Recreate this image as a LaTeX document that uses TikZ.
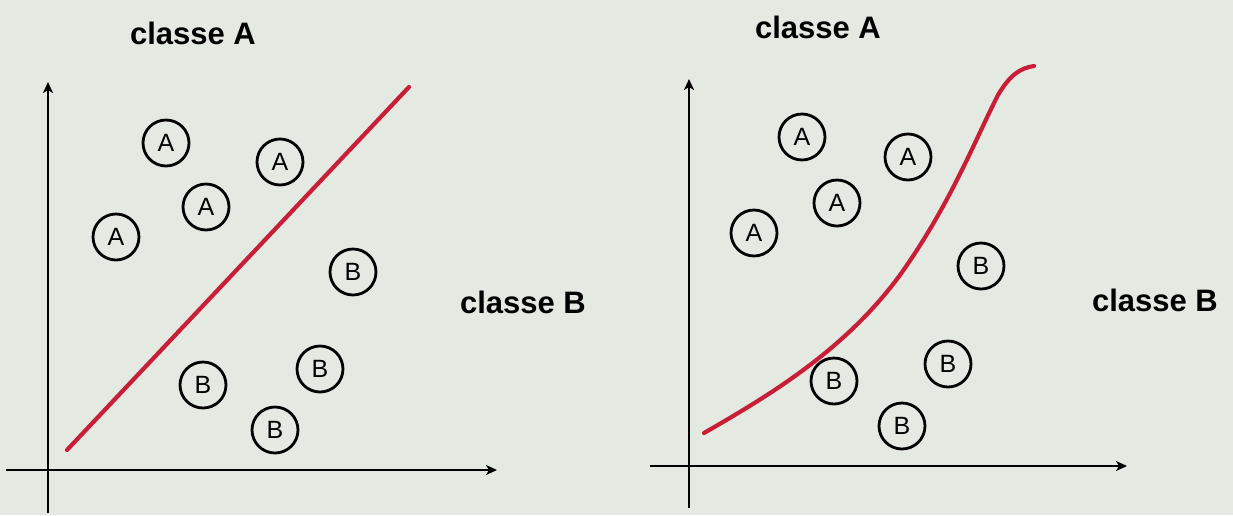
\documentclass[tikz,border=0pt]{standalone}
\usepackage{fontspec}
\setmainfont{Liberation Sans}
\usetikzlibrary{arrows.meta}
\definecolor{bg}{RGB}{228,234,226}
\definecolor{sep}{RGB}{200,30,55}
\tikzset{
  axis/.style={line width=2.6pt, -{Stealth[length=11pt,width=10pt,inset=3pt]}},
  pt/.style={circle, draw, line width=2.8pt, minimum size=46pt, inner sep=0pt, font=\fontsize{25}{28}\selectfont},
  lbl/.style={font=\fontsize{31}{36}\selectfont\bfseries, inner sep=0pt},
  sepline/.style={draw=sep, line width=4.2pt, line cap=round}
}
\begin{document}
\begin{tikzpicture}[x=1pt,y=-1pt]
\fill[bg] (0,0) rectangle (1233,515);
\useasboundingbox (0,0) rectangle (1233,515);
% left panel
\coordinate (lyb) at (48,513);
\coordinate (lyt) at (48,82);
\coordinate (lxl) at (6,470);
\coordinate (lxr) at (497,470);
\draw[axis] (lyb) -- (lyt);
\draw[axis] (lxl) -- (lxr);
\node[lbl] (lca) at (193,33) {classe A};
\node[lbl] (lcb) at (523,302) {classe B};
\coordinate (l1) at (67,450);
\coordinate (l2) at (409,87);
\draw[sepline] (l1) -- (l2);
\node[pt] (la1) at (166,143) {A};
\node[pt] (la2) at (280,162) {A};
\node[pt] (la3) at (206,207) {A};
\node[pt] (la4) at (116,237) {A};
\node[pt] (lb1) at (353,272) {B};
\node[pt] (lb2) at (203,385) {B};
\node[pt] (lb3) at (320,369) {B};
\node[pt] (lb4) at (275,430) {B};
% right panel
\coordinate (ryb) at (689,508);
\coordinate (ryt) at (689,79);
\coordinate (rxl) at (650,466);
\coordinate (rxr) at (1127,466);
\draw[axis] (ryb) -- (ryt);
\draw[axis] (rxl) -- (rxr);
\node[lbl] (rca) at (818,27) {classe A};
\node[lbl] (rcb) at (1155,300) {classe B};
\coordinate (c0) at (704,433);
\coordinate (c9) at (1034,66);
\draw[sepline] (c0) .. controls (770,395) and (845,350) .. (900,275)
  .. controls (950,205) and (975,140) .. (998,95)
  .. controls (1010,75) and (1020,68) .. (c9);
\node[pt] (ra1) at (802,137) {A};
\node[pt] (ra2) at (908,157) {A};
\node[pt] (ra3) at (837,203) {A};
\node[pt] (ra4) at (754,233) {A};
\node[pt] (rb1) at (981,266) {B};
\node[pt] (rb2) at (834,381) {B};
\node[pt] (rb3) at (948,364) {B};
\node[pt] (rb4) at (902,426) {B};
\end{tikzpicture}
\end{document}
